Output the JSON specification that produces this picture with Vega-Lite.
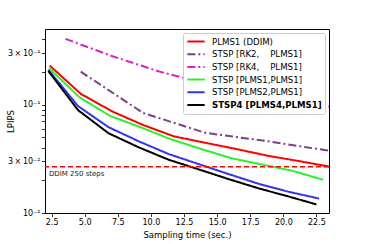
{
  "$schema": "https://vega.github.io/schema/vega-lite/v6.json",
  "autosize": {"type": "none"},
  "padding": {"left": 45, "top": 29, "right": 37, "bottom": 31},
  "width": 284,
  "height": 184,
  "config": {
    "font": "DejaVu Sans",
    "view": {"stroke": "#000000", "strokeWidth": 1},
    "axis": {
      "domain": false, "grid": false, "tickColor": "#000000", "tickSize": 3.5, "tickWidth": 0.8,
      "labelColor": "#000000", "labelFontSize": 8, "titleFontSize": 8.5, "titleFontWeight": "normal",
      "titleColor": "#000000", "labelPadding": 1.5, "labelOverlap": false
    },
    "legend": {
      "fillColor": "#ffffff", "strokeColor": "#cccccc", "cornerRadius": 2, "padding": 3,
      "labelFontSize": 8.6, "labelColor": "#000000", "symbolType": "stroke", "symbolStrokeWidth": 2,
      "symbolSize": 300, "labelOffset": 6, "clipHeight": 11, "rowPadding": 1.7
    }
  },
  "datasets": {
    "curves": [
      {"s": "PLMS1 (DDIM)", "t": 2.35, "lpips": 0.23},
      {"s": "PLMS1 (DDIM)", "t": 4.7, "lpips": 0.126},
      {"s": "PLMS1 (DDIM)", "t": 7.05, "lpips": 0.087},
      {"s": "PLMS1 (DDIM)", "t": 9.4, "lpips": 0.065},
      {"s": "PLMS1 (DDIM)", "t": 11.75, "lpips": 0.051},
      {"s": "PLMS1 (DDIM)", "t": 14.1, "lpips": 0.0445},
      {"s": "PLMS1 (DDIM)", "t": 16.45, "lpips": 0.039},
      {"s": "PLMS1 (DDIM)", "t": 18.8, "lpips": 0.0338},
      {"s": "PLMS1 (DDIM)", "t": 21.15, "lpips": 0.0302},
      {"s": "PLMS1 (DDIM)", "t": 23.5, "lpips": 0.0268},
      {"s": "STSP [RK2,\u00a0\u00a0\u00a0\u00a0PLMS1]", "t": 4.7, "lpips": 0.202},
      {"s": "STSP [RK2,\u00a0\u00a0\u00a0\u00a0PLMS1]", "t": 9.4, "lpips": 0.084},
      {"s": "STSP [RK2,\u00a0\u00a0\u00a0\u00a0PLMS1]", "t": 14.1, "lpips": 0.055},
      {"s": "STSP [RK2,\u00a0\u00a0\u00a0\u00a0PLMS1]", "t": 18.8, "lpips": 0.046},
      {"s": "STSP [RK2,\u00a0\u00a0\u00a0\u00a0PLMS1]", "t": 23.5, "lpips": 0.0375},
      {"s": "STSP [RK4,\u00a0\u00a0\u00a0\u00a0PLMS1]", "t": 3.55, "lpips": 0.405},
      {"s": "STSP [RK4,\u00a0\u00a0\u00a0\u00a0PLMS1]", "t": 7.1, "lpips": 0.28},
      {"s": "STSP [RK4,\u00a0\u00a0\u00a0\u00a0PLMS1]", "t": 10.65, "lpips": 0.202},
      {"s": "STSP [RK4,\u00a0\u00a0\u00a0\u00a0PLMS1]", "t": 14.2, "lpips": 0.156},
      {"s": "STSP [RK4,\u00a0\u00a0\u00a0\u00a0PLMS1]", "t": 17.75, "lpips": 0.128},
      {"s": "STSP [RK4,\u00a0\u00a0\u00a0\u00a0PLMS1]", "t": 21.3, "lpips": 0.105},
      {"s": "STSP [RK4,\u00a0\u00a0\u00a0\u00a0PLMS1]", "t": 23.5, "lpips": 0.096},
      {"s": "STSP [PLMS1,PLMS1]", "t": 2.3, "lpips": 0.218},
      {"s": "STSP [PLMS1,PLMS1]", "t": 4.6, "lpips": 0.117},
      {"s": "STSP [PLMS1,PLMS1]", "t": 6.9, "lpips": 0.079},
      {"s": "STSP [PLMS1,PLMS1]", "t": 9.2, "lpips": 0.062},
      {"s": "STSP [PLMS1,PLMS1]", "t": 11.5, "lpips": 0.048},
      {"s": "STSP [PLMS1,PLMS1]", "t": 13.8, "lpips": 0.039},
      {"s": "STSP [PLMS1,PLMS1]", "t": 16.1, "lpips": 0.032},
      {"s": "STSP [PLMS1,PLMS1]", "t": 18.4, "lpips": 0.028},
      {"s": "STSP [PLMS1,PLMS1]", "t": 20.7, "lpips": 0.0245},
      {"s": "STSP [PLMS1,PLMS1]", "t": 23.0, "lpips": 0.0203},
      {"s": "STSP [PLMS2,PLMS1]", "t": 2.25, "lpips": 0.21},
      {"s": "STSP [PLMS2,PLMS1]", "t": 4.5, "lpips": 0.097},
      {"s": "STSP [PLMS2,PLMS1]", "t": 6.8, "lpips": 0.062},
      {"s": "STSP [PLMS2,PLMS1]", "t": 9.1, "lpips": 0.0458},
      {"s": "STSP [PLMS2,PLMS1]", "t": 11.35, "lpips": 0.035},
      {"s": "STSP [PLMS2,PLMS1]", "t": 13.6, "lpips": 0.0283},
      {"s": "STSP [PLMS2,PLMS1]", "t": 15.9, "lpips": 0.0228},
      {"s": "STSP [PLMS2,PLMS1]", "t": 18.2, "lpips": 0.0185},
      {"s": "STSP [PLMS2,PLMS1]", "t": 20.4, "lpips": 0.0157},
      {"s": "STSP [PLMS2,PLMS1]", "t": 22.7, "lpips": 0.0136},
      {"s": "STSP4 [PLMS4,PLMS1]", "t": 2.25, "lpips": 0.205},
      {"s": "STSP4 [PLMS4,PLMS1]", "t": 4.5, "lpips": 0.089},
      {"s": "STSP4 [PLMS4,PLMS1]", "t": 6.8, "lpips": 0.0545},
      {"s": "STSP4 [PLMS4,PLMS1]", "t": 9.1, "lpips": 0.0403},
      {"s": "STSP4 [PLMS4,PLMS1]", "t": 11.35, "lpips": 0.031},
      {"s": "STSP4 [PLMS4,PLMS1]", "t": 13.6, "lpips": 0.0253},
      {"s": "STSP4 [PLMS4,PLMS1]", "t": 15.9, "lpips": 0.0205},
      {"s": "STSP4 [PLMS4,PLMS1]", "t": 18.2, "lpips": 0.0168},
      {"s": "STSP4 [PLMS4,PLMS1]", "t": 20.4, "lpips": 0.0142},
      {"s": "STSP4 [PLMS4,PLMS1]", "t": 22.5, "lpips": 0.012}
    ]
  },
  "layer": [
    {
      "data": {"name": "curves"},
      "mark": {"type": "line", "strokeWidth": 2, "clip": true},
      "encoding": {
        "x": {
          "field": "t", "type": "quantitative",
          "scale": {"domain": [2.0, 23.45], "nice": false, "zero": false},
          "axis": {"values": [2.5, 5, 7.5, 10, 12.5, 15, 17.5, 20, 22.5], "tickCount": 30, "format": ".1f", "labelOverlap": false, "labelFlush": false, "title": "Sampling time (sec.)", "titlePadding": 4}
        },
        "y": {
          "field": "lpips", "type": "quantitative",
          "scale": {"type": "log", "domain": [0.01, 0.5], "nice": false},
          "axis": {
            "values": [0.01, 0.02, 0.03, 0.04, 0.05, 0.06, 0.07, 0.08, 0.09, 0.1, 0.2, 0.3, 0.4],
            "tickCount": 30,
            "labelOverlap": false,
            "labelExpr": "datum.value == 0.01 ? '10⁻²' : datum.value == 0.03 ? '3\u2009×\u200910⁻²' : datum.value == 0.1 ? '10⁻¹' : datum.value == 0.3 ? '3\u2009×\u200910⁻¹' : ''",
            "title": "LPIPS", "titleX": -35, "titleY": 92, "titleAlign": "center", "titleBaseline": "middle", "titleAngle": -90
          }
        },
        "color": {
          "field": "s", "type": "nominal",
          "scale": {
            "domain": ["PLMS1 (DDIM)", "STSP [RK2,\u00a0\u00a0\u00a0\u00a0PLMS1]", "STSP [RK4,\u00a0\u00a0\u00a0\u00a0PLMS1]", "STSP [PLMS1,PLMS1]", "STSP [PLMS2,PLMS1]", "STSP4 [PLMS4,PLMS1]"],
            "range": ["#ff0000", "#7d3d8c", "#d81fd2", "#2cf02c", "#3434f0", "#000000"]
          },
          "legend": {"title": null, "orient": "top-right", "offset": 4,
            "encode": {"labels": {"update": {"fontWeight": {"signal": "indexof(datum.label, 'STSP4') == 0 ? 'bold' : 'normal'"}}}}}
        },
        "strokeDash": {
          "field": "s", "type": "nominal",
          "scale": {
            "domain": ["PLMS1 (DDIM)", "STSP [RK2,\u00a0\u00a0\u00a0\u00a0PLMS1]", "STSP [RK4,\u00a0\u00a0\u00a0\u00a0PLMS1]", "STSP [PLMS1,PLMS1]", "STSP [PLMS2,PLMS1]", "STSP4 [PLMS4,PLMS1]"],
            "range": [[1, 0], [8, 3, 2, 3], [8, 3, 2, 3], [1, 0], [1, 0], [1, 0]]
          },
          "legend": {"title": null, "orient": "top-right", "offset": 4}
        }
      }
    },
    {
      "data": {"values": [{"lpips": 0.0267}]},
      "mark": {"type": "rule", "color": "#ff0000", "strokeWidth": 1.5, "strokeDash": [5, 3]},
      "encoding": {"y": {"field": "lpips", "type": "quantitative"}}
    },
    {
      "data": {"values": [{"t": 2.3, "lpips": 0.0228, "label": "DDIM 250 steps"}]},
      "mark": {"type": "text", "align": "left", "baseline": "middle", "fontSize": 7, "color": "#222222"},
      "encoding": {
        "x": {"field": "t", "type": "quantitative"},
        "y": {"field": "lpips", "type": "quantitative"},
        "text": {"field": "label"}
      }
    }
  ]
}
